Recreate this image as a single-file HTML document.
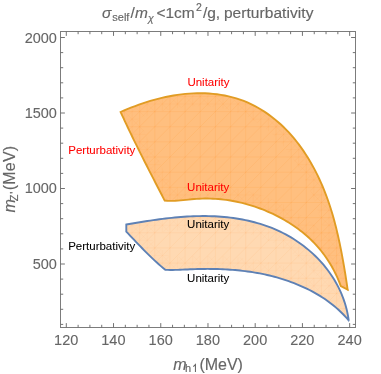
<!DOCTYPE html>
<html><head><meta charset="utf-8"><title>plot</title>
<style>
html,body{margin:0;padding:0;background:#fff;}
body{width:381px;height:374px;overflow:hidden;font-family:"Liberation Sans",sans-serif;}
svg{display:block;will-change:transform;}
text{font-family:"Liberation Sans",sans-serif;}
.g{fill:#666;stroke:#666;stroke-width:0.15px;}
.tk{font-size:14.5px;fill:#666;stroke:#666;stroke-width:0.1px;}
.lb{font-size:11.5px;stroke-width:0.06px;}
</style></head><body>
<svg width="381" height="374" viewBox="0 0 381 374">
<rect width="381" height="374" fill="#fff"/>
<defs><clipPath id="cu"><path d="M120.60 112.00 L124.20 110.43 L127.83 108.91 L131.50 107.44 L135.19 106.02 L138.92 104.66 L142.67 103.36 L146.44 102.12 L150.24 100.95 L154.07 99.85 L157.91 98.82 L161.77 97.87 L165.65 96.99 L169.55 96.20 L173.46 95.50 L177.38 94.88 L181.32 94.35 L185.26 93.92 L189.21 93.59 L193.17 93.36 L197.14 93.23 L201.11 93.21 L205.08 93.31 L209.05 93.51 L213.01 93.83 L216.96 94.27 L220.88 94.84 L224.79 95.53 L228.66 96.35 L232.50 97.30 L236.29 98.38 L240.05 99.61 L243.75 100.97 L247.39 102.47 L250.98 104.10 L254.51 105.87 L257.98 107.75 L261.38 109.76 L264.72 111.88 L268.00 114.11 L271.20 116.45 L274.33 118.89 L277.38 121.42 L280.36 124.05 L283.27 126.77 L286.09 129.57 L288.83 132.44 L291.48 135.40 L294.06 138.42 L296.56 141.51 L298.99 144.66 L301.33 147.88 L303.60 151.14 L305.80 154.46 L307.93 157.82 L309.98 161.22 L311.96 164.66 L313.87 168.13 L315.71 171.64 L317.48 175.18 L319.19 178.75 L320.83 182.35 L322.41 185.97 L323.93 189.63 L325.38 193.30 L326.78 197.00 L328.12 200.73 L329.40 204.47 L330.62 208.23 L331.80 212.01 L332.92 215.81 L333.99 219.62 L335.01 223.45 L335.99 227.29 L336.93 231.14 L337.84 235.00 L338.70 238.88 L339.54 242.76 L340.34 246.64 L341.11 250.54 L341.86 254.44 L342.59 258.34 L343.29 262.24 L343.97 266.15 L344.64 270.05 L345.28 273.96 L345.89 277.87 L346.49 281.78 L347.06 285.69 L347.60 289.60 L340.80 286.10 L339.86 283.59 L338.86 281.09 L337.82 278.62 L336.71 276.16 L335.56 273.72 L334.35 271.31 L333.10 268.93 L331.79 266.57 L330.43 264.24 L329.02 261.94 L327.56 259.67 L326.05 257.44 L324.49 255.24 L322.88 253.09 L321.23 250.97 L319.52 248.89 L317.77 246.86 L315.97 244.87 L314.13 242.92 L312.25 241.01 L310.33 239.14 L308.36 237.32 L306.36 235.53 L304.31 233.79 L302.24 232.09 L300.12 230.43 L297.97 228.81 L295.79 227.23 L293.58 225.70 L291.34 224.20 L289.07 222.75 L286.77 221.34 L284.45 219.97 L282.10 218.63 L279.73 217.34 L277.33 216.10 L274.92 214.89 L272.48 213.72 L270.03 212.59 L267.55 211.51 L265.07 210.46 L262.56 209.45 L260.05 208.49 L257.52 207.57 L254.97 206.69 L252.41 205.85 L249.84 205.06 L247.26 204.31 L244.67 203.60 L242.07 202.93 L239.45 202.32 L236.83 201.74 L234.20 201.22 L231.56 200.73 L228.92 200.30 L226.26 199.91 L223.60 199.57 L220.93 199.28 L218.26 199.03 L215.59 198.83 L212.90 198.69 L210.22 198.59 L207.53 198.54 L204.84 198.54 L202.15 198.60 L199.46 198.70 L196.76 198.86 L194.07 199.06 L191.38 199.31 L188.69 199.59 L186.00 199.87 L183.31 200.15 L180.63 200.41 L177.96 200.63 L175.29 200.79 L172.63 200.89 L169.97 200.90 L167.33 200.81 L164.70 200.60 L164.70 200.60 L163.14 197.58 L161.57 194.55 L160.01 191.53 L158.44 188.51 L156.88 185.48 L155.32 182.45 L153.76 179.42 L152.20 176.39 L150.65 173.36 L149.09 170.32 L147.54 167.28 L145.99 164.24 L144.45 161.20 L142.91 158.15 L141.38 155.11 L139.85 152.05 L138.33 149.00 L136.81 145.94 L135.30 142.87 L133.79 139.81 L132.29 136.74 L130.80 133.66 L129.32 130.58 L127.84 127.50 L126.38 124.41 L124.92 121.31 L123.47 118.21 L122.03 115.11 L120.60 112.00 Z"/></clipPath><clipPath id="cl"><path d="M126.30 224.50 L129.27 223.99 L132.26 223.48 L135.25 222.98 L138.25 222.49 L141.26 222.00 L144.27 221.52 L147.30 221.05 L150.33 220.59 L153.36 220.15 L156.40 219.72 L159.45 219.31 L162.50 218.91 L165.56 218.54 L168.62 218.18 L171.69 217.85 L174.76 217.54 L177.84 217.26 L180.91 217.00 L183.99 216.77 L187.08 216.57 L190.16 216.40 L193.25 216.26 L196.34 216.16 L199.43 216.09 L202.52 216.06 L205.61 216.06 L208.70 216.10 L211.79 216.19 L214.88 216.32 L217.97 216.49 L221.05 216.70 L224.13 216.96 L227.20 217.27 L230.27 217.62 L233.33 218.02 L236.38 218.47 L239.42 218.97 L242.45 219.52 L245.47 220.12 L248.47 220.77 L251.46 221.47 L254.43 222.23 L257.38 223.05 L260.32 223.92 L263.23 224.84 L266.13 225.83 L269.00 226.87 L271.85 227.98 L274.67 229.14 L277.47 230.36 L280.24 231.65 L282.98 233.00 L285.70 234.42 L288.38 235.89 L291.03 237.43 L293.64 239.03 L296.22 240.69 L298.76 242.41 L301.26 244.19 L303.71 246.02 L306.12 247.91 L308.49 249.86 L310.81 251.86 L313.08 253.92 L315.30 256.03 L317.47 258.19 L319.58 260.40 L321.64 262.67 L323.64 264.98 L325.57 267.34 L327.45 269.75 L329.27 272.21 L331.01 274.71 L332.70 277.26 L334.31 279.85 L335.85 282.48 L337.32 285.16 L338.72 287.88 L340.04 290.64 L341.29 293.44 L342.45 296.28 L343.53 299.16 L344.53 302.08 L345.45 305.03 L346.28 308.01 L347.02 311.04 L347.67 314.09 L348.23 317.18 L348.70 320.30 L348.70 320.30 L347.03 318.41 L345.33 316.55 L343.60 314.74 L341.83 312.97 L340.03 311.24 L338.19 309.55 L336.33 307.89 L334.43 306.28 L332.51 304.71 L330.55 303.18 L328.56 301.69 L326.55 300.23 L324.50 298.82 L322.43 297.45 L320.33 296.11 L318.20 294.82 L316.05 293.56 L313.88 292.34 L311.68 291.15 L309.46 290.01 L307.21 288.90 L304.95 287.82 L302.68 286.78 L300.38 285.77 L298.07 284.79 L295.75 283.85 L293.41 282.94 L291.07 282.06 L288.71 281.21 L286.35 280.39 L283.97 279.60 L281.60 278.84 L279.21 278.11 L276.82 277.41 L274.41 276.75 L272.01 276.12 L269.59 275.52 L267.16 274.96 L264.73 274.43 L262.29 273.92 L259.85 273.44 L257.40 272.99 L254.94 272.57 L252.48 272.17 L250.01 271.80 L247.54 271.45 L245.06 271.13 L242.58 270.83 L240.10 270.55 L237.61 270.30 L235.12 270.07 L232.63 269.86 L230.13 269.68 L227.63 269.51 L225.13 269.37 L222.63 269.25 L220.13 269.15 L217.62 269.06 L215.12 269.00 L212.62 268.95 L210.11 268.93 L207.61 268.92 L205.10 268.93 L202.60 268.95 L200.10 268.99 L197.60 269.05 L195.10 269.12 L192.61 269.21 L190.12 269.32 L187.63 269.43 L185.14 269.55 L182.65 269.66 L180.17 269.77 L177.69 269.86 L175.21 269.92 L172.73 269.95 L170.25 269.95 L167.78 269.90 L165.30 269.80 L165.30 269.80 L163.08 267.98 L160.89 266.12 L158.72 264.24 L156.58 262.32 L154.46 260.38 L152.37 258.41 L150.29 256.42 L148.23 254.41 L146.19 252.38 L144.17 250.34 L142.15 248.28 L140.15 246.21 L138.16 244.13 L136.17 242.05 L134.19 239.96 L132.22 237.87 L130.25 235.78 L128.27 233.69 L126.30 231.60 Z"/></clipPath></defs>
<path d="M120.60 112.00 L124.20 110.43 L127.83 108.91 L131.50 107.44 L135.19 106.02 L138.92 104.66 L142.67 103.36 L146.44 102.12 L150.24 100.95 L154.07 99.85 L157.91 98.82 L161.77 97.87 L165.65 96.99 L169.55 96.20 L173.46 95.50 L177.38 94.88 L181.32 94.35 L185.26 93.92 L189.21 93.59 L193.17 93.36 L197.14 93.23 L201.11 93.21 L205.08 93.31 L209.05 93.51 L213.01 93.83 L216.96 94.27 L220.88 94.84 L224.79 95.53 L228.66 96.35 L232.50 97.30 L236.29 98.38 L240.05 99.61 L243.75 100.97 L247.39 102.47 L250.98 104.10 L254.51 105.87 L257.98 107.75 L261.38 109.76 L264.72 111.88 L268.00 114.11 L271.20 116.45 L274.33 118.89 L277.38 121.42 L280.36 124.05 L283.27 126.77 L286.09 129.57 L288.83 132.44 L291.48 135.40 L294.06 138.42 L296.56 141.51 L298.99 144.66 L301.33 147.88 L303.60 151.14 L305.80 154.46 L307.93 157.82 L309.98 161.22 L311.96 164.66 L313.87 168.13 L315.71 171.64 L317.48 175.18 L319.19 178.75 L320.83 182.35 L322.41 185.97 L323.93 189.63 L325.38 193.30 L326.78 197.00 L328.12 200.73 L329.40 204.47 L330.62 208.23 L331.80 212.01 L332.92 215.81 L333.99 219.62 L335.01 223.45 L335.99 227.29 L336.93 231.14 L337.84 235.00 L338.70 238.88 L339.54 242.76 L340.34 246.64 L341.11 250.54 L341.86 254.44 L342.59 258.34 L343.29 262.24 L343.97 266.15 L344.64 270.05 L345.28 273.96 L345.89 277.87 L346.49 281.78 L347.06 285.69 L347.60 289.60 L340.80 286.10 L339.86 283.59 L338.86 281.09 L337.82 278.62 L336.71 276.16 L335.56 273.72 L334.35 271.31 L333.10 268.93 L331.79 266.57 L330.43 264.24 L329.02 261.94 L327.56 259.67 L326.05 257.44 L324.49 255.24 L322.88 253.09 L321.23 250.97 L319.52 248.89 L317.77 246.86 L315.97 244.87 L314.13 242.92 L312.25 241.01 L310.33 239.14 L308.36 237.32 L306.36 235.53 L304.31 233.79 L302.24 232.09 L300.12 230.43 L297.97 228.81 L295.79 227.23 L293.58 225.70 L291.34 224.20 L289.07 222.75 L286.77 221.34 L284.45 219.97 L282.10 218.63 L279.73 217.34 L277.33 216.10 L274.92 214.89 L272.48 213.72 L270.03 212.59 L267.55 211.51 L265.07 210.46 L262.56 209.45 L260.05 208.49 L257.52 207.57 L254.97 206.69 L252.41 205.85 L249.84 205.06 L247.26 204.31 L244.67 203.60 L242.07 202.93 L239.45 202.32 L236.83 201.74 L234.20 201.22 L231.56 200.73 L228.92 200.30 L226.26 199.91 L223.60 199.57 L220.93 199.28 L218.26 199.03 L215.59 198.83 L212.90 198.69 L210.22 198.59 L207.53 198.54 L204.84 198.54 L202.15 198.60 L199.46 198.70 L196.76 198.86 L194.07 199.06 L191.38 199.31 L188.69 199.59 L186.00 199.87 L183.31 200.15 L180.63 200.41 L177.96 200.63 L175.29 200.79 L172.63 200.89 L169.97 200.90 L167.33 200.81 L164.70 200.60 L164.70 200.60 L163.14 197.58 L161.57 194.55 L160.01 191.53 L158.44 188.51 L156.88 185.48 L155.32 182.45 L153.76 179.42 L152.20 176.39 L150.65 173.36 L149.09 170.32 L147.54 167.28 L145.99 164.24 L144.45 161.20 L142.91 158.15 L141.38 155.11 L139.85 152.05 L138.33 149.00 L136.81 145.94 L135.30 142.87 L133.79 139.81 L132.29 136.74 L130.80 133.66 L129.32 130.58 L127.84 127.50 L126.38 124.41 L124.92 121.31 L123.47 118.21 L122.03 115.11 L120.60 112.00 Z" fill="#ffbf7f"/>
<path d="M126.30 224.50 L129.27 223.99 L132.26 223.48 L135.25 222.98 L138.25 222.49 L141.26 222.00 L144.27 221.52 L147.30 221.05 L150.33 220.59 L153.36 220.15 L156.40 219.72 L159.45 219.31 L162.50 218.91 L165.56 218.54 L168.62 218.18 L171.69 217.85 L174.76 217.54 L177.84 217.26 L180.91 217.00 L183.99 216.77 L187.08 216.57 L190.16 216.40 L193.25 216.26 L196.34 216.16 L199.43 216.09 L202.52 216.06 L205.61 216.06 L208.70 216.10 L211.79 216.19 L214.88 216.32 L217.97 216.49 L221.05 216.70 L224.13 216.96 L227.20 217.27 L230.27 217.62 L233.33 218.02 L236.38 218.47 L239.42 218.97 L242.45 219.52 L245.47 220.12 L248.47 220.77 L251.46 221.47 L254.43 222.23 L257.38 223.05 L260.32 223.92 L263.23 224.84 L266.13 225.83 L269.00 226.87 L271.85 227.98 L274.67 229.14 L277.47 230.36 L280.24 231.65 L282.98 233.00 L285.70 234.42 L288.38 235.89 L291.03 237.43 L293.64 239.03 L296.22 240.69 L298.76 242.41 L301.26 244.19 L303.71 246.02 L306.12 247.91 L308.49 249.86 L310.81 251.86 L313.08 253.92 L315.30 256.03 L317.47 258.19 L319.58 260.40 L321.64 262.67 L323.64 264.98 L325.57 267.34 L327.45 269.75 L329.27 272.21 L331.01 274.71 L332.70 277.26 L334.31 279.85 L335.85 282.48 L337.32 285.16 L338.72 287.88 L340.04 290.64 L341.29 293.44 L342.45 296.28 L343.53 299.16 L344.53 302.08 L345.45 305.03 L346.28 308.01 L347.02 311.04 L347.67 314.09 L348.23 317.18 L348.70 320.30 L348.70 320.30 L347.03 318.41 L345.33 316.55 L343.60 314.74 L341.83 312.97 L340.03 311.24 L338.19 309.55 L336.33 307.89 L334.43 306.28 L332.51 304.71 L330.55 303.18 L328.56 301.69 L326.55 300.23 L324.50 298.82 L322.43 297.45 L320.33 296.11 L318.20 294.82 L316.05 293.56 L313.88 292.34 L311.68 291.15 L309.46 290.01 L307.21 288.90 L304.95 287.82 L302.68 286.78 L300.38 285.77 L298.07 284.79 L295.75 283.85 L293.41 282.94 L291.07 282.06 L288.71 281.21 L286.35 280.39 L283.97 279.60 L281.60 278.84 L279.21 278.11 L276.82 277.41 L274.41 276.75 L272.01 276.12 L269.59 275.52 L267.16 274.96 L264.73 274.43 L262.29 273.92 L259.85 273.44 L257.40 272.99 L254.94 272.57 L252.48 272.17 L250.01 271.80 L247.54 271.45 L245.06 271.13 L242.58 270.83 L240.10 270.55 L237.61 270.30 L235.12 270.07 L232.63 269.86 L230.13 269.68 L227.63 269.51 L225.13 269.37 L222.63 269.25 L220.13 269.15 L217.62 269.06 L215.12 269.00 L212.62 268.95 L210.11 268.93 L207.61 268.92 L205.10 268.93 L202.60 268.95 L200.10 268.99 L197.60 269.05 L195.10 269.12 L192.61 269.21 L190.12 269.32 L187.63 269.43 L185.14 269.55 L182.65 269.66 L180.17 269.77 L177.69 269.86 L175.21 269.92 L172.73 269.95 L170.25 269.95 L167.78 269.90 L165.30 269.80 L165.30 269.80 L163.08 267.98 L160.89 266.12 L158.72 264.24 L156.58 262.32 L154.46 260.38 L152.37 258.41 L150.29 256.42 L148.23 254.41 L146.19 252.38 L144.17 250.34 L142.15 248.28 L140.15 246.21 L138.16 244.13 L136.17 242.05 L134.19 239.96 L132.22 237.87 L130.25 235.78 L128.27 233.69 L126.30 231.60 Z" fill="#ffd9b2"/>
<mask id="mu" maskUnits="userSpaceOnUse" x="0" y="0" width="381" height="374"><path d="M120.60 112.00 L124.20 110.43 L127.83 108.91 L131.50 107.44 L135.19 106.02 L138.92 104.66 L142.67 103.36 L146.44 102.12 L150.24 100.95 L154.07 99.85 L157.91 98.82 L161.77 97.87 L165.65 96.99 L169.55 96.20 L173.46 95.50 L177.38 94.88 L181.32 94.35 L185.26 93.92 L189.21 93.59 L193.17 93.36 L197.14 93.23 L201.11 93.21 L205.08 93.31 L209.05 93.51 L213.01 93.83 L216.96 94.27 L220.88 94.84 L224.79 95.53 L228.66 96.35 L232.50 97.30 L236.29 98.38 L240.05 99.61 L243.75 100.97 L247.39 102.47 L250.98 104.10 L254.51 105.87 L257.98 107.75 L261.38 109.76 L264.72 111.88 L268.00 114.11 L271.20 116.45 L274.33 118.89 L277.38 121.42 L280.36 124.05 L283.27 126.77 L286.09 129.57 L288.83 132.44 L291.48 135.40 L294.06 138.42 L296.56 141.51 L298.99 144.66 L301.33 147.88 L303.60 151.14 L305.80 154.46 L307.93 157.82 L309.98 161.22 L311.96 164.66 L313.87 168.13 L315.71 171.64 L317.48 175.18 L319.19 178.75 L320.83 182.35 L322.41 185.97 L323.93 189.63 L325.38 193.30 L326.78 197.00 L328.12 200.73 L329.40 204.47 L330.62 208.23 L331.80 212.01 L332.92 215.81 L333.99 219.62 L335.01 223.45 L335.99 227.29 L336.93 231.14 L337.84 235.00 L338.70 238.88 L339.54 242.76 L340.34 246.64 L341.11 250.54 L341.86 254.44 L342.59 258.34 L343.29 262.24 L343.97 266.15 L344.64 270.05 L345.28 273.96 L345.89 277.87 L346.49 281.78 L347.06 285.69 L347.60 289.60 L340.80 286.10 L339.86 283.59 L338.86 281.09 L337.82 278.62 L336.71 276.16 L335.56 273.72 L334.35 271.31 L333.10 268.93 L331.79 266.57 L330.43 264.24 L329.02 261.94 L327.56 259.67 L326.05 257.44 L324.49 255.24 L322.88 253.09 L321.23 250.97 L319.52 248.89 L317.77 246.86 L315.97 244.87 L314.13 242.92 L312.25 241.01 L310.33 239.14 L308.36 237.32 L306.36 235.53 L304.31 233.79 L302.24 232.09 L300.12 230.43 L297.97 228.81 L295.79 227.23 L293.58 225.70 L291.34 224.20 L289.07 222.75 L286.77 221.34 L284.45 219.97 L282.10 218.63 L279.73 217.34 L277.33 216.10 L274.92 214.89 L272.48 213.72 L270.03 212.59 L267.55 211.51 L265.07 210.46 L262.56 209.45 L260.05 208.49 L257.52 207.57 L254.97 206.69 L252.41 205.85 L249.84 205.06 L247.26 204.31 L244.67 203.60 L242.07 202.93 L239.45 202.32 L236.83 201.74 L234.20 201.22 L231.56 200.73 L228.92 200.30 L226.26 199.91 L223.60 199.57 L220.93 199.28 L218.26 199.03 L215.59 198.83 L212.90 198.69 L210.22 198.59 L207.53 198.54 L204.84 198.54 L202.15 198.60 L199.46 198.70 L196.76 198.86 L194.07 199.06 L191.38 199.31 L188.69 199.59 L186.00 199.87 L183.31 200.15 L180.63 200.41 L177.96 200.63 L175.29 200.79 L172.63 200.89 L169.97 200.90 L167.33 200.81 L164.70 200.60 L164.70 200.60 L163.14 197.58 L161.57 194.55 L160.01 191.53 L158.44 188.51 L156.88 185.48 L155.32 182.45 L153.76 179.42 L152.20 176.39 L150.65 173.36 L149.09 170.32 L147.54 167.28 L145.99 164.24 L144.45 161.20 L142.91 158.15 L141.38 155.11 L139.85 152.05 L138.33 149.00 L136.81 145.94 L135.30 142.87 L133.79 139.81 L132.29 136.74 L130.80 133.66 L129.32 130.58 L127.84 127.50 L126.38 124.41 L124.92 121.31 L123.47 118.21 L122.03 115.11 L120.60 112.00 Z" fill="none" stroke="#fff" stroke-width="26"/></mask>
<mask id="ml" maskUnits="userSpaceOnUse" x="0" y="0" width="381" height="374"><path d="M126.30 224.50 L129.27 223.99 L132.26 223.48 L135.25 222.98 L138.25 222.49 L141.26 222.00 L144.27 221.52 L147.30 221.05 L150.33 220.59 L153.36 220.15 L156.40 219.72 L159.45 219.31 L162.50 218.91 L165.56 218.54 L168.62 218.18 L171.69 217.85 L174.76 217.54 L177.84 217.26 L180.91 217.00 L183.99 216.77 L187.08 216.57 L190.16 216.40 L193.25 216.26 L196.34 216.16 L199.43 216.09 L202.52 216.06 L205.61 216.06 L208.70 216.10 L211.79 216.19 L214.88 216.32 L217.97 216.49 L221.05 216.70 L224.13 216.96 L227.20 217.27 L230.27 217.62 L233.33 218.02 L236.38 218.47 L239.42 218.97 L242.45 219.52 L245.47 220.12 L248.47 220.77 L251.46 221.47 L254.43 222.23 L257.38 223.05 L260.32 223.92 L263.23 224.84 L266.13 225.83 L269.00 226.87 L271.85 227.98 L274.67 229.14 L277.47 230.36 L280.24 231.65 L282.98 233.00 L285.70 234.42 L288.38 235.89 L291.03 237.43 L293.64 239.03 L296.22 240.69 L298.76 242.41 L301.26 244.19 L303.71 246.02 L306.12 247.91 L308.49 249.86 L310.81 251.86 L313.08 253.92 L315.30 256.03 L317.47 258.19 L319.58 260.40 L321.64 262.67 L323.64 264.98 L325.57 267.34 L327.45 269.75 L329.27 272.21 L331.01 274.71 L332.70 277.26 L334.31 279.85 L335.85 282.48 L337.32 285.16 L338.72 287.88 L340.04 290.64 L341.29 293.44 L342.45 296.28 L343.53 299.16 L344.53 302.08 L345.45 305.03 L346.28 308.01 L347.02 311.04 L347.67 314.09 L348.23 317.18 L348.70 320.30 L348.70 320.30 L347.03 318.41 L345.33 316.55 L343.60 314.74 L341.83 312.97 L340.03 311.24 L338.19 309.55 L336.33 307.89 L334.43 306.28 L332.51 304.71 L330.55 303.18 L328.56 301.69 L326.55 300.23 L324.50 298.82 L322.43 297.45 L320.33 296.11 L318.20 294.82 L316.05 293.56 L313.88 292.34 L311.68 291.15 L309.46 290.01 L307.21 288.90 L304.95 287.82 L302.68 286.78 L300.38 285.77 L298.07 284.79 L295.75 283.85 L293.41 282.94 L291.07 282.06 L288.71 281.21 L286.35 280.39 L283.97 279.60 L281.60 278.84 L279.21 278.11 L276.82 277.41 L274.41 276.75 L272.01 276.12 L269.59 275.52 L267.16 274.96 L264.73 274.43 L262.29 273.92 L259.85 273.44 L257.40 272.99 L254.94 272.57 L252.48 272.17 L250.01 271.80 L247.54 271.45 L245.06 271.13 L242.58 270.83 L240.10 270.55 L237.61 270.30 L235.12 270.07 L232.63 269.86 L230.13 269.68 L227.63 269.51 L225.13 269.37 L222.63 269.25 L220.13 269.15 L217.62 269.06 L215.12 269.00 L212.62 268.95 L210.11 268.93 L207.61 268.92 L205.10 268.93 L202.60 268.95 L200.10 268.99 L197.60 269.05 L195.10 269.12 L192.61 269.21 L190.12 269.32 L187.63 269.43 L185.14 269.55 L182.65 269.66 L180.17 269.77 L177.69 269.86 L175.21 269.92 L172.73 269.95 L170.25 269.95 L167.78 269.90 L165.30 269.80 L165.30 269.80 L163.08 267.98 L160.89 266.12 L158.72 264.24 L156.58 262.32 L154.46 260.38 L152.37 258.41 L150.29 256.42 L148.23 254.41 L146.19 252.38 L144.17 250.34 L142.15 248.28 L140.15 246.21 L138.16 244.13 L136.17 242.05 L134.19 239.96 L132.22 237.87 L130.25 235.78 L128.27 233.69 L126.30 231.60 Z" fill="none" stroke="#fff" stroke-width="26"/></mask>
<g clip-path="url(#cu)" fill="none" stroke="#ff8000" stroke-width="0.9">
<path d="M63.90 31V328M79.05 31V328M94.20 31V328M109.35 31V328M124.50 31V328M139.65 31V328M154.80 31V328M169.95 31V328M185.10 31V328M200.25 31V328M215.40 31V328M230.55 31V328M245.70 31V328M260.85 31V328M276.00 31V328M291.15 31V328M306.30 31V328M321.45 31V328M336.60 31V328M351.75 31V328M60 35.85H356M60 51.00H356M60 66.15H356M60 81.30H356M60 96.45H356M60 111.60H356M60 126.75H356M60 141.90H356M60 157.05H356M60 172.20H356M60 187.35H356M60 202.50H356M60 217.65H356M60 232.80H356M60 247.95H356M60 263.10H356M60 278.25H356M60 293.40H356M60 308.55H356M60 323.70H356M68.75 31L-228.25 328M83.90 31L-213.10 328M99.05 31L-197.95 328M114.20 31L-182.80 328M129.35 31L-167.65 328M144.50 31L-152.50 328M159.65 31L-137.35 328M174.80 31L-122.20 328M189.95 31L-107.05 328M205.10 31L-91.90 328M220.25 31L-76.75 328M235.40 31L-61.60 328M250.55 31L-46.45 328M265.70 31L-31.30 328M280.85 31L-16.15 328M296.00 31L-1.00 328M311.15 31L14.15 328M326.30 31L29.30 328M341.45 31L44.45 328M356.60 31L59.60 328M371.75 31L74.75 328M386.90 31L89.90 328M402.05 31L105.05 328M417.20 31L120.20 328M432.35 31L135.35 328M447.50 31L150.50 328M462.65 31L165.65 328M477.80 31L180.80 328M492.95 31L195.95 328M508.10 31L211.10 328M523.25 31L226.25 328M538.40 31L241.40 328M553.55 31L256.55 328M568.70 31L271.70 328M583.85 31L286.85 328M599.00 31L302.00 328M614.15 31L317.15 328M629.30 31L332.30 328M644.45 31L347.45 328" stroke-opacity="0.11"/>
<g mask="url(#mu)"><path d="M71.47 31V328M86.62 31V328M101.78 31V328M116.92 31V328M132.07 31V328M147.23 31V328M162.38 31V328M177.53 31V328M192.68 31V328M207.83 31V328M222.97 31V328M238.12 31V328M253.28 31V328M268.43 31V328M283.57 31V328M298.73 31V328M313.88 31V328M329.02 31V328M344.18 31V328M60 43.42H356M60 58.57H356M60 73.72H356M60 88.88H356M60 104.02H356M60 119.17H356M60 134.32H356M60 149.47H356M60 164.62H356M60 179.77H356M60 194.93H356M60 210.07H356M60 225.22H356M60 240.38H356M60 255.53H356M60 270.68H356M60 285.82H356M60 300.98H356M60 316.12H356M61.17 31L-235.83 328M76.32 31L-220.68 328M91.47 31L-205.53 328M106.62 31L-190.38 328M121.78 31L-175.22 328M136.92 31L-160.08 328M152.07 31L-144.93 328M167.22 31L-129.78 328M182.38 31L-114.62 328M197.52 31L-99.48 328M212.67 31L-84.33 328M227.83 31L-69.17 328M242.97 31L-54.03 328M258.12 31L-38.88 328M273.27 31L-23.72 328M288.43 31L-8.57 328M303.57 31L6.57 328M318.73 31L21.72 328M333.88 31L36.88 328M349.02 31L52.03 328M364.17 31L67.17 328M379.33 31L82.33 328M394.48 31L97.47 328M409.62 31L112.62 328M424.77 31L127.78 328M439.93 31L142.93 328M455.08 31L158.08 328M470.23 31L173.22 328M485.38 31L188.37 328M500.52 31L203.53 328M515.68 31L218.68 328M530.83 31L233.83 328M545.98 31L248.97 328M561.12 31L264.12 328M576.28 31L279.28 328M591.43 31L294.43 328M606.58 31L309.58 328M621.73 31L324.73 328M636.88 31L339.88 328M652.03 31L355.03 328M-228.80 31L68.20 328M-213.65 31L83.35 328M-198.50 31L98.50 328M-183.35 31L113.65 328M-168.20 31L128.80 328M-153.05 31L143.95 328M-137.90 31L159.10 328M-122.75 31L174.25 328M-107.60 31L189.40 328M-92.45 31L204.55 328M-77.30 31L219.70 328M-62.15 31L234.85 328M-47.00 31L250.00 328M-31.85 31L265.15 328M-16.70 31L280.30 328M-1.55 31L295.45 328M13.60 31L310.60 328M28.75 31L325.75 328M43.90 31L340.90 328M59.05 31L356.05 328M74.20 31L371.20 328M89.35 31L386.35 328M104.50 31L401.50 328M119.65 31L416.65 328M134.80 31L431.80 328M149.95 31L446.95 328M165.10 31L462.10 328M180.25 31L477.25 328M195.40 31L492.40 328M210.55 31L507.55 328M225.70 31L522.70 328M240.85 31L537.85 328M256.00 31L553.00 328M271.15 31L568.15 328M286.30 31L583.30 328M301.45 31L598.45 328M316.60 31L613.60 328M331.75 31L628.75 328M346.90 31L643.90 328" stroke-opacity="0.06"/></g>
</g>
<g clip-path="url(#cl)" fill="none" stroke="#ff8000" stroke-width="0.9">
<path d="M63.90 31V328M79.05 31V328M94.20 31V328M109.35 31V328M124.50 31V328M139.65 31V328M154.80 31V328M169.95 31V328M185.10 31V328M200.25 31V328M215.40 31V328M230.55 31V328M245.70 31V328M260.85 31V328M276.00 31V328M291.15 31V328M306.30 31V328M321.45 31V328M336.60 31V328M351.75 31V328M60 35.85H356M60 51.00H356M60 66.15H356M60 81.30H356M60 96.45H356M60 111.60H356M60 126.75H356M60 141.90H356M60 157.05H356M60 172.20H356M60 187.35H356M60 202.50H356M60 217.65H356M60 232.80H356M60 247.95H356M60 263.10H356M60 278.25H356M60 293.40H356M60 308.55H356M60 323.70H356M68.75 31L-228.25 328M83.90 31L-213.10 328M99.05 31L-197.95 328M114.20 31L-182.80 328M129.35 31L-167.65 328M144.50 31L-152.50 328M159.65 31L-137.35 328M174.80 31L-122.20 328M189.95 31L-107.05 328M205.10 31L-91.90 328M220.25 31L-76.75 328M235.40 31L-61.60 328M250.55 31L-46.45 328M265.70 31L-31.30 328M280.85 31L-16.15 328M296.00 31L-1.00 328M311.15 31L14.15 328M326.30 31L29.30 328M341.45 31L44.45 328M356.60 31L59.60 328M371.75 31L74.75 328M386.90 31L89.90 328M402.05 31L105.05 328M417.20 31L120.20 328M432.35 31L135.35 328M447.50 31L150.50 328M462.65 31L165.65 328M477.80 31L180.80 328M492.95 31L195.95 328M508.10 31L211.10 328M523.25 31L226.25 328M538.40 31L241.40 328M553.55 31L256.55 328M568.70 31L271.70 328M583.85 31L286.85 328M599.00 31L302.00 328M614.15 31L317.15 328M629.30 31L332.30 328M644.45 31L347.45 328" stroke-opacity="0.07"/>
<g mask="url(#ml)"><path d="M71.47 31V328M86.62 31V328M101.78 31V328M116.92 31V328M132.07 31V328M147.23 31V328M162.38 31V328M177.53 31V328M192.68 31V328M207.83 31V328M222.97 31V328M238.12 31V328M253.28 31V328M268.43 31V328M283.57 31V328M298.73 31V328M313.88 31V328M329.02 31V328M344.18 31V328M60 43.42H356M60 58.57H356M60 73.72H356M60 88.88H356M60 104.02H356M60 119.17H356M60 134.32H356M60 149.47H356M60 164.62H356M60 179.77H356M60 194.93H356M60 210.07H356M60 225.22H356M60 240.38H356M60 255.53H356M60 270.68H356M60 285.82H356M60 300.98H356M60 316.12H356M61.17 31L-235.83 328M76.32 31L-220.68 328M91.47 31L-205.53 328M106.62 31L-190.38 328M121.78 31L-175.22 328M136.92 31L-160.08 328M152.07 31L-144.93 328M167.22 31L-129.78 328M182.38 31L-114.62 328M197.52 31L-99.48 328M212.67 31L-84.33 328M227.83 31L-69.17 328M242.97 31L-54.03 328M258.12 31L-38.88 328M273.27 31L-23.72 328M288.43 31L-8.57 328M303.57 31L6.57 328M318.73 31L21.72 328M333.88 31L36.88 328M349.02 31L52.03 328M364.17 31L67.17 328M379.33 31L82.33 328M394.48 31L97.47 328M409.62 31L112.62 328M424.77 31L127.78 328M439.93 31L142.93 328M455.08 31L158.08 328M470.23 31L173.22 328M485.38 31L188.37 328M500.52 31L203.53 328M515.68 31L218.68 328M530.83 31L233.83 328M545.98 31L248.97 328M561.12 31L264.12 328M576.28 31L279.28 328M591.43 31L294.43 328M606.58 31L309.58 328M621.73 31L324.73 328M636.88 31L339.88 328M652.03 31L355.03 328M-228.80 31L68.20 328M-213.65 31L83.35 328M-198.50 31L98.50 328M-183.35 31L113.65 328M-168.20 31L128.80 328M-153.05 31L143.95 328M-137.90 31L159.10 328M-122.75 31L174.25 328M-107.60 31L189.40 328M-92.45 31L204.55 328M-77.30 31L219.70 328M-62.15 31L234.85 328M-47.00 31L250.00 328M-31.85 31L265.15 328M-16.70 31L280.30 328M-1.55 31L295.45 328M13.60 31L310.60 328M28.75 31L325.75 328M43.90 31L340.90 328M59.05 31L356.05 328M74.20 31L371.20 328M89.35 31L386.35 328M104.50 31L401.50 328M119.65 31L416.65 328M134.80 31L431.80 328M149.95 31L446.95 328M165.10 31L462.10 328M180.25 31L477.25 328M195.40 31L492.40 328M210.55 31L507.55 328M225.70 31L522.70 328M240.85 31L537.85 328M256.00 31L553.00 328M271.15 31L568.15 328M286.30 31L583.30 328M301.45 31L598.45 328M316.60 31L613.60 328M331.75 31L628.75 328M346.90 31L643.90 328" stroke-opacity="0.04"/></g>
</g>
<path d="M120.60 112.00 L124.20 110.43 L127.83 108.91 L131.50 107.44 L135.19 106.02 L138.92 104.66 L142.67 103.36 L146.44 102.12 L150.24 100.95 L154.07 99.85 L157.91 98.82 L161.77 97.87 L165.65 96.99 L169.55 96.20 L173.46 95.50 L177.38 94.88 L181.32 94.35 L185.26 93.92 L189.21 93.59 L193.17 93.36 L197.14 93.23 L201.11 93.21 L205.08 93.31 L209.05 93.51 L213.01 93.83 L216.96 94.27 L220.88 94.84 L224.79 95.53 L228.66 96.35 L232.50 97.30 L236.29 98.38 L240.05 99.61 L243.75 100.97 L247.39 102.47 L250.98 104.10 L254.51 105.87 L257.98 107.75 L261.38 109.76 L264.72 111.88 L268.00 114.11 L271.20 116.45 L274.33 118.89 L277.38 121.42 L280.36 124.05 L283.27 126.77 L286.09 129.57 L288.83 132.44 L291.48 135.40 L294.06 138.42 L296.56 141.51 L298.99 144.66 L301.33 147.88 L303.60 151.14 L305.80 154.46 L307.93 157.82 L309.98 161.22 L311.96 164.66 L313.87 168.13 L315.71 171.64 L317.48 175.18 L319.19 178.75 L320.83 182.35 L322.41 185.97 L323.93 189.63 L325.38 193.30 L326.78 197.00 L328.12 200.73 L329.40 204.47 L330.62 208.23 L331.80 212.01 L332.92 215.81 L333.99 219.62 L335.01 223.45 L335.99 227.29 L336.93 231.14 L337.84 235.00 L338.70 238.88 L339.54 242.76 L340.34 246.64 L341.11 250.54 L341.86 254.44 L342.59 258.34 L343.29 262.24 L343.97 266.15 L344.64 270.05 L345.28 273.96 L345.89 277.87 L346.49 281.78 L347.06 285.69 L347.60 289.60 L340.80 286.10 L339.86 283.59 L338.86 281.09 L337.82 278.62 L336.71 276.16 L335.56 273.72 L334.35 271.31 L333.10 268.93 L331.79 266.57 L330.43 264.24 L329.02 261.94 L327.56 259.67 L326.05 257.44 L324.49 255.24 L322.88 253.09 L321.23 250.97 L319.52 248.89 L317.77 246.86 L315.97 244.87 L314.13 242.92 L312.25 241.01 L310.33 239.14 L308.36 237.32 L306.36 235.53 L304.31 233.79 L302.24 232.09 L300.12 230.43 L297.97 228.81 L295.79 227.23 L293.58 225.70 L291.34 224.20 L289.07 222.75 L286.77 221.34 L284.45 219.97 L282.10 218.63 L279.73 217.34 L277.33 216.10 L274.92 214.89 L272.48 213.72 L270.03 212.59 L267.55 211.51 L265.07 210.46 L262.56 209.45 L260.05 208.49 L257.52 207.57 L254.97 206.69 L252.41 205.85 L249.84 205.06 L247.26 204.31 L244.67 203.60 L242.07 202.93 L239.45 202.32 L236.83 201.74 L234.20 201.22 L231.56 200.73 L228.92 200.30 L226.26 199.91 L223.60 199.57 L220.93 199.28 L218.26 199.03 L215.59 198.83 L212.90 198.69 L210.22 198.59 L207.53 198.54 L204.84 198.54 L202.15 198.60 L199.46 198.70 L196.76 198.86 L194.07 199.06 L191.38 199.31 L188.69 199.59 L186.00 199.87 L183.31 200.15 L180.63 200.41 L177.96 200.63 L175.29 200.79 L172.63 200.89 L169.97 200.90 L167.33 200.81 L164.70 200.60 L164.70 200.60 L163.14 197.58 L161.57 194.55 L160.01 191.53 L158.44 188.51 L156.88 185.48 L155.32 182.45 L153.76 179.42 L152.20 176.39 L150.65 173.36 L149.09 170.32 L147.54 167.28 L145.99 164.24 L144.45 161.20 L142.91 158.15 L141.38 155.11 L139.85 152.05 L138.33 149.00 L136.81 145.94 L135.30 142.87 L133.79 139.81 L132.29 136.74 L130.80 133.66 L129.32 130.58 L127.84 127.50 L126.38 124.41 L124.92 121.31 L123.47 118.21 L122.03 115.11 L120.60 112.00 Z" fill="none" stroke="#e19c24" stroke-width="1.9" stroke-linejoin="miter" stroke-miterlimit="3"/>
<path d="M126.30 224.50 L129.27 223.99 L132.26 223.48 L135.25 222.98 L138.25 222.49 L141.26 222.00 L144.27 221.52 L147.30 221.05 L150.33 220.59 L153.36 220.15 L156.40 219.72 L159.45 219.31 L162.50 218.91 L165.56 218.54 L168.62 218.18 L171.69 217.85 L174.76 217.54 L177.84 217.26 L180.91 217.00 L183.99 216.77 L187.08 216.57 L190.16 216.40 L193.25 216.26 L196.34 216.16 L199.43 216.09 L202.52 216.06 L205.61 216.06 L208.70 216.10 L211.79 216.19 L214.88 216.32 L217.97 216.49 L221.05 216.70 L224.13 216.96 L227.20 217.27 L230.27 217.62 L233.33 218.02 L236.38 218.47 L239.42 218.97 L242.45 219.52 L245.47 220.12 L248.47 220.77 L251.46 221.47 L254.43 222.23 L257.38 223.05 L260.32 223.92 L263.23 224.84 L266.13 225.83 L269.00 226.87 L271.85 227.98 L274.67 229.14 L277.47 230.36 L280.24 231.65 L282.98 233.00 L285.70 234.42 L288.38 235.89 L291.03 237.43 L293.64 239.03 L296.22 240.69 L298.76 242.41 L301.26 244.19 L303.71 246.02 L306.12 247.91 L308.49 249.86 L310.81 251.86 L313.08 253.92 L315.30 256.03 L317.47 258.19 L319.58 260.40 L321.64 262.67 L323.64 264.98 L325.57 267.34 L327.45 269.75 L329.27 272.21 L331.01 274.71 L332.70 277.26 L334.31 279.85 L335.85 282.48 L337.32 285.16 L338.72 287.88 L340.04 290.64 L341.29 293.44 L342.45 296.28 L343.53 299.16 L344.53 302.08 L345.45 305.03 L346.28 308.01 L347.02 311.04 L347.67 314.09 L348.23 317.18 L348.70 320.30 L348.70 320.30 L347.03 318.41 L345.33 316.55 L343.60 314.74 L341.83 312.97 L340.03 311.24 L338.19 309.55 L336.33 307.89 L334.43 306.28 L332.51 304.71 L330.55 303.18 L328.56 301.69 L326.55 300.23 L324.50 298.82 L322.43 297.45 L320.33 296.11 L318.20 294.82 L316.05 293.56 L313.88 292.34 L311.68 291.15 L309.46 290.01 L307.21 288.90 L304.95 287.82 L302.68 286.78 L300.38 285.77 L298.07 284.79 L295.75 283.85 L293.41 282.94 L291.07 282.06 L288.71 281.21 L286.35 280.39 L283.97 279.60 L281.60 278.84 L279.21 278.11 L276.82 277.41 L274.41 276.75 L272.01 276.12 L269.59 275.52 L267.16 274.96 L264.73 274.43 L262.29 273.92 L259.85 273.44 L257.40 272.99 L254.94 272.57 L252.48 272.17 L250.01 271.80 L247.54 271.45 L245.06 271.13 L242.58 270.83 L240.10 270.55 L237.61 270.30 L235.12 270.07 L232.63 269.86 L230.13 269.68 L227.63 269.51 L225.13 269.37 L222.63 269.25 L220.13 269.15 L217.62 269.06 L215.12 269.00 L212.62 268.95 L210.11 268.93 L207.61 268.92 L205.10 268.93 L202.60 268.95 L200.10 268.99 L197.60 269.05 L195.10 269.12 L192.61 269.21 L190.12 269.32 L187.63 269.43 L185.14 269.55 L182.65 269.66 L180.17 269.77 L177.69 269.86 L175.21 269.92 L172.73 269.95 L170.25 269.95 L167.78 269.90 L165.30 269.80 L165.30 269.80 L163.08 267.98 L160.89 266.12 L158.72 264.24 L156.58 262.32 L154.46 260.38 L152.37 258.41 L150.29 256.42 L148.23 254.41 L146.19 252.38 L144.17 250.34 L142.15 248.28 L140.15 246.21 L138.16 244.13 L136.17 242.05 L134.19 239.96 L132.22 237.87 L130.25 235.78 L128.27 233.69 L126.30 231.60 Z" fill="none" stroke="#5e81b5" stroke-width="1.9" stroke-linejoin="miter" stroke-miterlimit="3"/>
<path d="M347.9 320.4L349.55 320.1L348.85 322.2Z" fill="#5e81b5"/>
<path d="M346.8 289.9L348.4 289.0L348.3 290.8Z" fill="#e19c24"/>
<rect x="60.5" y="31.5" width="295.0" height="296.0" fill="none" stroke="#7c7c7c" stroke-width="1"/>
<path d="M66.30 327.50v-4.4M66.30 31.50v4.4M78.11 327.50v-2.7M78.11 31.50v2.7M89.91 327.50v-2.7M89.91 31.50v2.7M101.72 327.50v-2.7M101.72 31.50v2.7M113.53 327.50v-4.4M113.53 31.50v4.4M125.33 327.50v-2.7M125.33 31.50v2.7M137.14 327.50v-2.7M137.14 31.50v2.7M148.95 327.50v-2.7M148.95 31.50v2.7M160.75 327.50v-4.4M160.75 31.50v4.4M172.56 327.50v-2.7M172.56 31.50v2.7M184.37 327.50v-2.7M184.37 31.50v2.7M196.17 327.50v-2.7M196.17 31.50v2.7M207.98 327.50v-4.4M207.98 31.50v4.4M219.78 327.50v-2.7M219.78 31.50v2.7M231.59 327.50v-2.7M231.59 31.50v2.7M243.40 327.50v-2.7M243.40 31.50v2.7M255.20 327.50v-4.4M255.20 31.50v4.4M267.01 327.50v-2.7M267.01 31.50v2.7M278.82 327.50v-2.7M278.82 31.50v2.7M290.62 327.50v-2.7M290.62 31.50v2.7M302.43 327.50v-4.4M302.43 31.50v4.4M314.24 327.50v-2.7M314.24 31.50v2.7M326.04 327.50v-2.7M326.04 31.50v2.7M337.85 327.50v-2.7M337.85 31.50v2.7M349.66 327.50v-4.4M349.66 31.50v4.4M60.50 324.40h2.7M355.50 324.40h-2.7M60.50 309.30h2.7M355.50 309.30h-2.7M60.50 294.20h2.7M355.50 294.20h-2.7M60.50 279.10h2.7M355.50 279.10h-2.7M60.50 264.00h4.4M355.50 264.00h-4.4M60.50 248.90h2.7M355.50 248.90h-2.7M60.50 233.80h2.7M355.50 233.80h-2.7M60.50 218.70h2.7M355.50 218.70h-2.7M60.50 203.60h2.7M355.50 203.60h-2.7M60.50 188.50h4.4M355.50 188.50h-4.4M60.50 173.40h2.7M355.50 173.40h-2.7M60.50 158.30h2.7M355.50 158.30h-2.7M60.50 143.20h2.7M355.50 143.20h-2.7M60.50 128.10h2.7M355.50 128.10h-2.7M60.50 113.00h4.4M355.50 113.00h-4.4M60.50 97.90h2.7M355.50 97.90h-2.7M60.50 82.80h2.7M355.50 82.80h-2.7M60.50 67.70h2.7M355.50 67.70h-2.7M60.50 52.60h2.7M355.50 52.60h-2.7M60.50 37.50h4.4M355.50 37.50h-4.4" stroke="#6c6c6c" stroke-width="0.95" fill="none"/>
<g class="tk"><text transform="translate(66.2,344.6) scale(1,1.04)" text-anchor="middle">120</text><text transform="translate(113.4,344.6) scale(1,1.04)" text-anchor="middle">140</text><text transform="translate(160.7,344.6) scale(1,1.04)" text-anchor="middle">160</text><text transform="translate(207.9,344.6) scale(1,1.04)" text-anchor="middle">180</text><text transform="translate(255.1,344.6) scale(1,1.04)" text-anchor="middle">200</text><text transform="translate(302.3,344.6) scale(1,1.04)" text-anchor="middle">220</text><text transform="translate(349.6,344.6) scale(1,1.04)" text-anchor="middle">240</text><text transform="translate(56.9,269.0) scale(1,1.04)" text-anchor="end">500</text><text transform="translate(56.9,193.0) scale(1,1.04)" text-anchor="end">1000</text><text transform="translate(56.9,117.9) scale(1,1.04)" text-anchor="end">1500</text><text transform="translate(56.9,42.6) scale(1,1.04)" text-anchor="end">2000</text></g>
<g class="lb">
<text transform="translate(68.3,154.0) scale(1,1.03)" fill="#f00" stroke="#f00">Perturbativity</text>
<text transform="translate(68.2,250.3) scale(1,1.03)" fill="#000" stroke="#000">Perturbativity</text>
<text transform="translate(187.4,85.5) scale(1,1.03)" fill="#f00" stroke="#f00">Unitarity</text>
<text transform="translate(187.1,191.2) scale(1,1.03)" fill="#f00" stroke="#f00">Unitarity</text>
<text transform="translate(187.1,228.4) scale(1,1.03)" fill="#000" stroke="#000">Unitarity</text>
<text transform="translate(187.1,281.9) scale(1,1.03)" fill="#000" stroke="#000">Unitarity</text>
</g>
<g class="g" font-size="15.5">
<text x="101.9" y="17.6" font-style="italic">σ</text>
<text x="112.3" y="21.4" font-size="11">self</text>
<text x="130.6" y="17.6">/</text>
<text x="135.0" y="17.6" font-style="italic">m</text>
<text x="148.0" y="21.8" font-size="10.5" font-style="italic">χ</text>
<text x="156.4" y="17.6">&lt;1cm</text>
<text x="195.9" y="10.8" font-size="10.5">2</text>
<text x="202.9" y="17.6">/g,</text>
<text x="223.9" y="17.6" letter-spacing="0.06">perturbativity</text>
</g>
<g class="g" font-size="16">
<text x="173.2" y="369.8" font-style="italic">m</text>
<text x="185.0" y="372.1" font-size="11">h</text>
<path d="M193.3 366.7L195.45 364.6V372.1" stroke="#666" stroke-width="1.05" fill="none" stroke-linejoin="miter"/>
<text x="199.4" y="370.1">(MeV)</text>
</g>
<g class="g" font-size="16" transform="translate(15.1,212.4) rotate(-90)">
<text x="0" y="0" font-style="italic">m</text>
<text x="11.2" y="3" font-size="11">Z</text>
<text x="18.6" y="3" font-size="11">'</text>
<text x="22.2" y="0" letter-spacing="0.2">(MeV)</text>
</g>
</svg>
</body></html>
